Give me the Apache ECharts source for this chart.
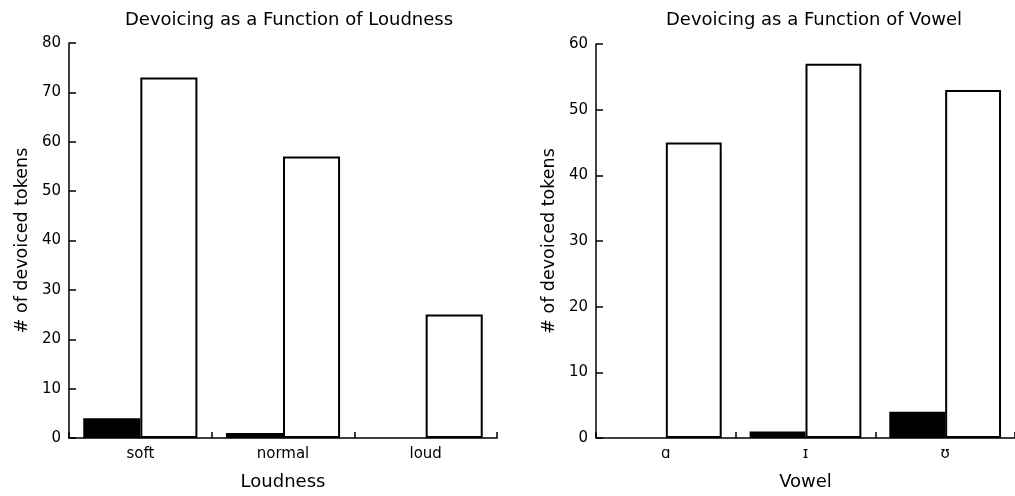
<!DOCTYPE html>
<html>
<head>
<meta charset="utf-8">
<script src="https://cdn.jsdelivr.net/npm/echarts@6/dist/echarts.min.js"></script>
<style>
  html, body { margin: 0; padding: 0; background: #fff; }
  #chart { width: 1015px; height: 496px; }
</style>
</head>
<body>
<div id="chart"></div>
<script>
// Panel izquierdo: volumen
const loudnessCats = ['soft', 'normal', 'loud'];
const loudnessBlack = [4, 1, 0];
const loudnessWhite = [73, 57, 25];

// Panel derecho: vocal
const vowelCats = ['ɑ', 'ɪ', 'ʊ'];
const vowelBlack = [0, 1, 4];
const vowelWhite = [45, 57, 53];

const FONT = 'DejaVu Sans';
const INK = '#000';

function xAxisCfg(idx, cats, name) {
    return {
        type: 'category',
        gridIndex: idx,
        data: cats,
        name: name,
        nameLocation: 'middle',
        nameGap: 35,
        nameTextStyle: { fontFamily: FONT, fontSize: 18, color: INK },
        axisLine: { lineStyle: { color: '#000', width: 1.5 } },
        axisTick: { show: true, inside: true, length: 6, interval: 0, lineStyle: { color: '#000', width: 1.5 } },
        axisLabel: { fontFamily: FONT, fontSize: 15, color: INK, margin: 9, interval: 0 },
        splitLine: { show: false }
    };
}

function yAxisCfg(idx, max) {
    return {
        type: 'value',
        gridIndex: idx,
        min: 0,
        max: max,
        interval: 10,
        name: '# of devoiced tokens',
        nameLocation: 'middle',
        nameGap: 38,
        nameTextStyle: { fontFamily: FONT, fontSize: 17.5, color: INK },
        axisLine: { show: true, lineStyle: { color: '#000', width: 1.5 } },
        axisTick: { show: true, inside: true, length: 7, lineStyle: { color: '#000', width: 1.5 } },
        axisLabel: { fontFamily: FONT, fontSize: 15, color: INK, margin: 8 },
        splitLine: { show: false }
    };
}

function barPair(idx, black, white) {
    return [
        {
            type: 'bar',
            xAxisIndex: idx,
            yAxisIndex: idx,
            data: black,
            barWidth: '40%',
            barGap: '0%',
            itemStyle: { color: '#000', borderWidth: 0 },
            silent: true
        },
        {
            type: 'bar',
            xAxisIndex: idx,
            yAxisIndex: idx,
            data: white,
            barWidth: '40%',
            barGap: '0%',
            itemStyle: { color: '#fff', borderColor: '#000', borderWidth: 2 },
            silent: true
        }
    ];
}

const option = {
    animation: false,
    backgroundColor: '#fff',
    title: [
        {
            text: 'Devoicing as a Function of Loudness',
            left: 284,
            top: 6,
            textAlign: 'center',
            textStyle: { fontFamily: FONT, fontSize: 18, fontWeight: 'normal', color: INK }
        },
        {
            text: 'Devoicing as a Function of Vowel',
            left: 809,
            top: 6,
            textAlign: 'center',
            textStyle: { fontFamily: FONT, fontSize: 18, fontWeight: 'normal', color: INK }
        }
    ],
    grid: [
        { left: 69, top: 43, width: 428, bottom: 58, containLabel: false },
        { left: 596, top: 44, width: 426, bottom: 58, containLabel: false }
    ],
    xAxis: [
        xAxisCfg(0, loudnessCats, 'Loudness'),
        xAxisCfg(1, vowelCats, 'Vowel')
    ],
    yAxis: [
        yAxisCfg(0, 80),
        yAxisCfg(1, 60)
    ],
    series: [
        ...barPair(0, loudnessBlack, loudnessWhite),
        ...barPair(1, vowelBlack, vowelWhite)
    ]
};

const chart = echarts.init(document.getElementById('chart'));
chart.setOption(option);
</script>
</body>
</html>
